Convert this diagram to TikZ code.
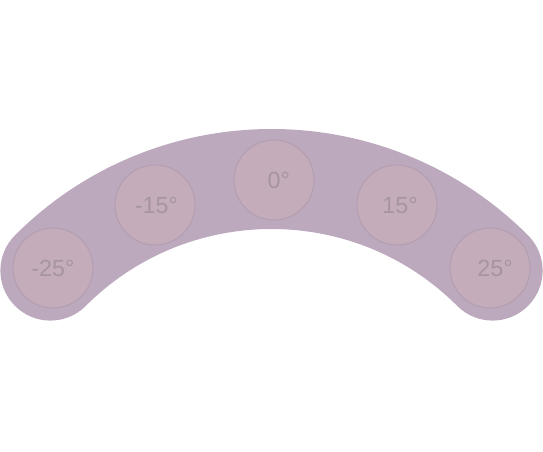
\documentclass[tikz,border=0pt]{standalone}
\usepackage{fontspec}
\setmainfont{Liberation Sans}
\usepackage{xcolor}

\definecolor{bandcol}{RGB}{189,169,190}
\definecolor{dialfill}{RGB}{196,172,186}
\definecolor{dialline}{RGB}{178,158,176}
\definecolor{dialtext}{RGB}{166,148,164}

\tikzset{
  dial/.style={circle, draw=dialline, line width=0.75pt, fill=dialfill,
    minimum size=60pt, inner sep=0pt},
  dialtxt/.style={text=dialtext, inner sep=0pt,
    font=\fontsize{17.5}{20}\selectfont},
}

\begin{document}
\begin{tikzpicture}[x=0.75pt,y=0.75pt,yscale=-1,xscale=1]
		%set diagram left start at 0, and has height of 451
		\useasboundingbox (0,0) rectangle (543,451);
		
		%Shape: Arc band
		\coordinate (hub) at (271.5,491.7);
		\draw [bandcol, line width=75pt, line cap=round] (hub) ++(225:312.7) arc (225:315:312.7);
		
		%Shape: Circle dials
		\node [dial] (m25) at (53,268) {};
		\node [dial] (m15) at (155,205) {};
		\node [dial] (z0) at (274,180) {};
		\node [dial] (p15) at (397,205) {};
		\node [dial] (p25) at (490,268) {};
		
		% Text Node
		\node [dialtxt] (m25t) at (m25.center) {-25°};
		% Text Node
		\node [dialtxt] (m15t) at ([xshift=1pt]m15.center) {-15°};
		% Text Node
		\node [dialtxt] (z0t) at ([xshift=3.6pt]z0.center) {0°};
		% Text Node
		\node [dialtxt] (p15t) at ([xshift=2.25pt]p15.center) {15°};
		% Text Node
		\node [dialtxt] (p25t) at ([xshift=3.75pt]p25.center) {25°};
		
\end{tikzpicture}
\end{document}
